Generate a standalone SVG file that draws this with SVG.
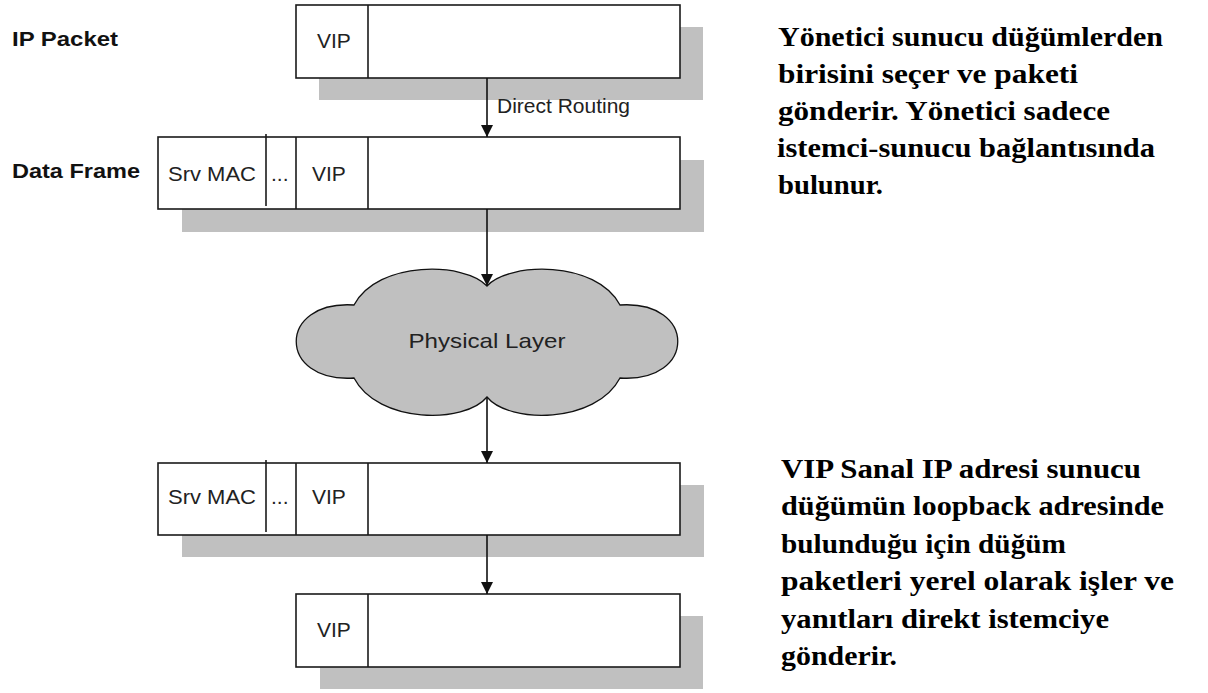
<svg xmlns="http://www.w3.org/2000/svg" width="1208" height="693" viewBox="0 0 1208 693">
  <style>
    .shadow { fill: #c0c0c0; stroke: none; }
    .box { fill: #ffffff; stroke: #1a1a1a; stroke-width: 1.6; }
    .div { stroke: #1a1a1a; stroke-width: 1.6; }
    .field { font-family: "Liberation Sans", Arial, sans-serif; font-size: 21px; fill: #222; }
    .label { font-family: "Liberation Sans", Arial, sans-serif; font-size: 21px; font-weight: bold; fill: #111; }
    .note { font-family: "Liberation Serif", "Times New Roman", serif; font-size: 28px; font-weight: bold; fill: #000; }
    .conn { stroke: #111; stroke-width: 1.6; fill: none; marker-end: url(#arrow); }
  </style>
  <defs>
    <marker id="arrow" viewBox="0 0 12 12" refX="12" refY="6" markerWidth="12" markerHeight="12" markerUnits="userSpaceOnUse" orient="auto">
      <path d="M0,0 L12,6 L0,12 z" fill="#111"/>
    </marker>
  </defs>

  <rect width="1208" height="693" fill="#ffffff"/>

  <!-- row labels -->
  <text class="label" x="12" y="46" textLength="106" lengthAdjust="spacingAndGlyphs">IP Packet</text>
  <text class="label" x="12" y="178" textLength="128" lengthAdjust="spacingAndGlyphs">Data Frame</text>

  <!-- IP packet -->
  <g id="ip-packet">
    <rect class="shadow" x="319" y="27" width="384" height="73"/>
    <rect class="box" x="296" y="5" width="384" height="73"/>
    <line class="div" x1="368" y1="5" x2="368" y2="78"/>
    <text class="field" x="317" y="48">VIP</text>
  </g>

  <!-- data frame sent -->
  <g id="data-frame">
    <rect class="shadow" x="182" y="160" width="522" height="72"/>
    <rect class="box" x="158" y="137" width="522" height="72"/>
    <line class="div" x1="266" y1="134" x2="266" y2="206"/>
    <line class="div" x1="296" y1="137" x2="296" y2="209"/>
    <line class="div" x1="368" y1="137" x2="368" y2="209"/>
    <text class="field" x="168" y="181" textLength="88" lengthAdjust="spacingAndGlyphs">Srv MAC</text>
    <text class="field" x="271" y="181">...</text>
    <text class="field" x="312" y="181">VIP</text>
  </g>

  <!-- physical layer cloud -->
  <g id="physical-layer">
    <path d="M487,286 C465,262 378,260 354,305 C277,300 277,383 354,378 C378,424 465,424 487,397 C509,424 596,424 620,378 C697,383 697,300 620,305 C596,260 509,262 487,286 Z" fill="#c0c0c0" stroke="#111" stroke-width="1.3"/>
    <text class="field" x="487" y="348" text-anchor="middle" textLength="157" lengthAdjust="spacingAndGlyphs">Physical Layer</text>
  </g>

  <!-- data frame received -->
  <g id="data-frame-received">
    <rect class="shadow" x="182" y="485" width="522" height="72"/>
    <rect class="box" x="158" y="463" width="522" height="72"/>
    <line class="div" x1="266" y1="460" x2="266" y2="532"/>
    <line class="div" x1="296" y1="463" x2="296" y2="535"/>
    <line class="div" x1="368" y1="463" x2="368" y2="535"/>
    <text class="field" x="168" y="504" textLength="88" lengthAdjust="spacingAndGlyphs">Srv MAC</text>
    <text class="field" x="271" y="504">...</text>
    <text class="field" x="312" y="504">VIP</text>
  </g>

  <!-- IP packet at server -->
  <g id="ip-packet-received">
    <rect class="shadow" x="320" y="616" width="383" height="73"/>
    <rect class="box" x="296" y="594" width="384" height="73"/>
    <line class="div" x1="368" y1="594" x2="368" y2="667"/>
    <text class="field" x="317" y="637">VIP</text>
  </g>

  <!-- connectors -->
  <g id="connectors">
    <line class="conn" x1="487" y1="78" x2="487" y2="137"/>
    <line class="conn" x1="487" y1="209" x2="487" y2="286"/>
    <line class="conn" x1="487" y1="397" x2="487" y2="463"/>
    <line class="conn" x1="487" y1="535" x2="487" y2="594"/>
    <text class="field" x="497" y="113" textLength="133" lengthAdjust="spacingAndGlyphs">Direct Routing</text>
  </g>

  <!-- notes -->
  <g id="note-director">
    <text class="note" x="778" y="46" textLength="385" lengthAdjust="spacingAndGlyphs">Yönetici sunucu düğümlerden</text>
    <text class="note" x="778" y="83" textLength="300" lengthAdjust="spacingAndGlyphs">birisini seçer ve paketi</text>
    <text class="note" x="778" y="120" textLength="332" lengthAdjust="spacingAndGlyphs">gönderir. Yönetici sadece</text>
    <text class="note" x="777" y="157" textLength="378" lengthAdjust="spacingAndGlyphs">istemci-sunucu bağlantısında</text>
    <text class="note" x="778" y="194" textLength="105" lengthAdjust="spacingAndGlyphs">bulunur.</text>
  </g>
  <g id="note-server">
    <text class="note" x="781" y="478" textLength="360" lengthAdjust="spacingAndGlyphs">VIP Sanal IP adresi sunucu</text>
    <text class="note" x="781" y="515" textLength="383" lengthAdjust="spacingAndGlyphs">düğümün loopback adresinde</text>
    <text class="note" x="781" y="553" textLength="285" lengthAdjust="spacingAndGlyphs">bulunduğu için düğüm</text>
    <text class="note" x="781" y="590" textLength="393" lengthAdjust="spacingAndGlyphs">paketleri yerel olarak işler ve</text>
    <text class="note" x="781" y="628" textLength="328" lengthAdjust="spacingAndGlyphs">yanıtları direkt istemciye</text>
    <text class="note" x="781" y="665" textLength="116" lengthAdjust="spacingAndGlyphs">gönderir.</text>
  </g>
</svg>
